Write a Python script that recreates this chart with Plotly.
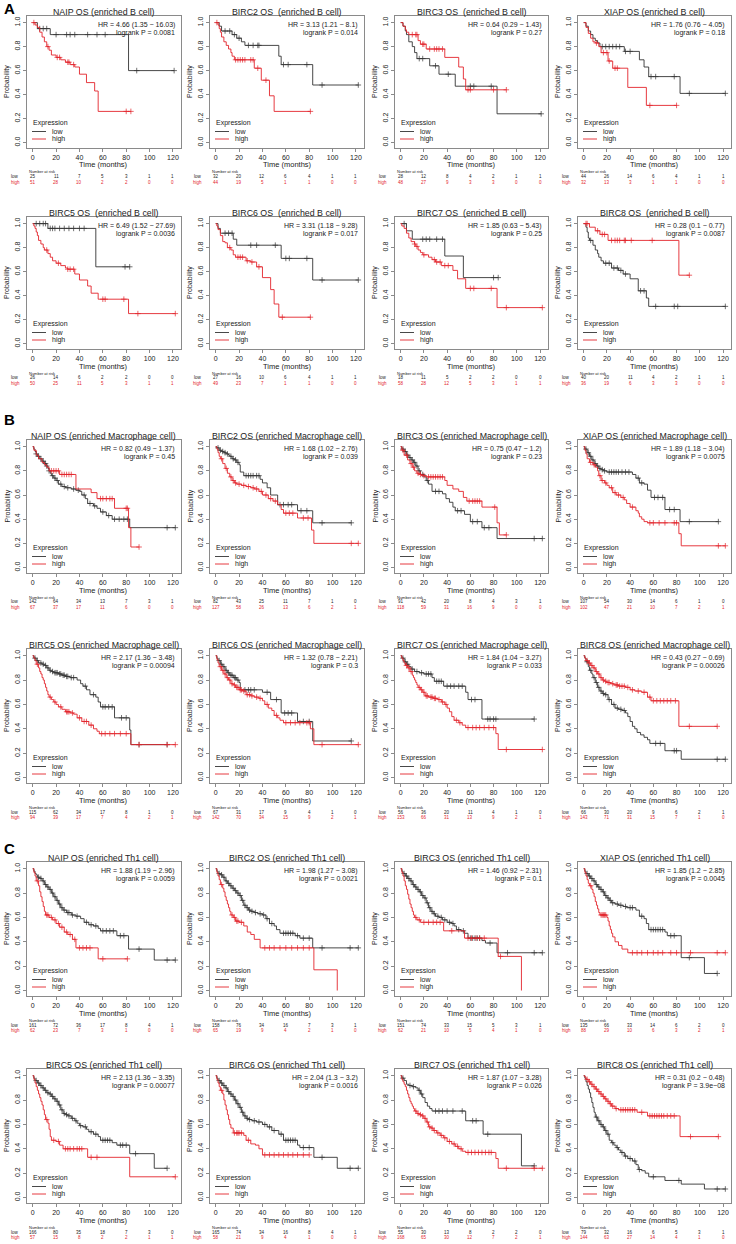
import plotly.graph_objects as go

# ---------------- DATA ----------------
TITLES = [
    "NAIP OS (enriched B cell)", "BIRC2 OS  (enriched B cell)", "BIRC3 OS  (enriched B cell)", "XIAP OS (enriched B cell)",
    "BIRC5 OS  (enriched B cell)", "BIRC6 OS  (enriched B cell)", "BIRC7 OS  (enriched B cell)", "BIRC8 OS  (enriched B cell)",
    "NAIP OS (enriched Macrophage cell)", "BIRC2 OS (enriched Macrophage cell)", "BIRC3 OS (enriched Macrophage cell)", "XIAP OS (enriched Macrophage cell)",
    "BIRC5 OS (enriched Macrophage cell)", "BIRC6 OS (enriched Macrophage cell)", "BIRC7 OS (enriched Macrophage cell)", "BIRC8 OS (enriched Macrophage cell)",
    "NAIP OS (enriched Th1 cell)", "BIRC2 OS (enriched Th1 cell)", "BIRC3 OS (enriched Th1 cell)", "XIAP OS (enriched Th1 cell)",
    "BIRC5 OS (enriched Th1 cell)", "BIRC6 OS (enriched Th1 cell)", "BIRC7 OS (enriched Th1 cell)", "BIRC8 OS (enriched Th1 cell)",
]
HR_TEXT = [
    "HR = 4.66 (1.35 − 16.03)", "HR = 3.13 (1.21 − 8.1)", "HR = 0.64 (0.29 − 1.43)", "HR = 1.76 (0.76 − 4.05)",
    "HR = 6.49 (1.52 − 27.69)", "HR = 3.31 (1.18 − 9.28)", "HR = 1.85 (0.63 − 5.43)", "HR = 0.28 (0.1 − 0.77)",
    "HR = 0.82 (0.49 − 1.37)", "HR = 1.68 (1.02 − 2.76)", "HR = 0.75 (0.47 − 1.2)", "HR = 1.89 (1.18 − 3.04)",
    "HR = 2.17 (1.36 − 3.48)", "HR = 1.32 (0.78 − 2.21)", "HR = 1.84 (1.04 − 3.27)", "HR = 0.43 (0.27 − 0.69)",
    "HR = 1.88 (1.19 − 2.96)", "HR = 1.98 (1.27 − 3.08)", "HR = 1.46 (0.92 − 2.31)", "HR = 1.85 (1.2 − 2.85)",
    "HR = 2.13 (1.36 − 3.35)", "HR = 2.04 (1.3 − 3.2)", "HR = 1.87 (1.07 − 3.28)", "HR = 0.31 (0.2 − 0.48)",
]
P_TEXT = [
    "logrank P = 0.0081", "logrank P = 0.014", "logrank P = 0.27", "logrank P = 0.18",
    "logrank P = 0.0036", "logrank P = 0.017", "logrank P = 0.25", "logrank P = 0.0087",
    "logrank P = 0.45", "logrank P = 0.039", "logrank P = 0.23", "logrank P = 0.0075",
    "logrank P = 0.00094", "logrank P = 0.3", "logrank P = 0.033", "logrank P = 0.00026",
    "logrank P = 0.0059", "logrank P = 0.0021", "logrank P = 0.1", "logrank P = 0.0045",
    "logrank P = 0.00077", "logrank P = 0.0016", "logrank P = 0.026", "logrank P = 3.9e−08",
]
NAR_TIMES = [0, 20, 40, 60, 80, 100, 120]
X_TICKS = [0, 20, 40, 60, 80, 100, 120]
Y_TICKS = [0.0, 0.2, 0.4, 0.6, 0.8, 1.0]
PANEL_LETTERS = ["A", "B", "C"]

# ---- Panel A (B cell) ----
A1_low_t = [4, 15, 82]
A1_low_s = [0.95, 0.90, 0.60]
A1_low_c = [6, 9, 12, 20, 29, 32, 36, 47, 55, 62, 89, 121]
A1_high_t = [2, 4, 6, 8, 10, 12, 14, 16, 20, 24, 28, 32, 36, 40, 46, 53, 56]
A1_high_s = [0.98, 0.96, 0.92, 0.88, 0.84, 0.80, 0.77, 0.73, 0.71, 0.69, 0.67, 0.65, 0.63, 0.57, 0.50, 0.43, 0.26]
A1_high_c = [1, 13, 21, 23, 30, 31, 35, 80, 84]
A1_nar_low = [25, 11, 7, 5, 3, 1, 1]
A1_nar_high = [51, 28, 10, 2, 2, 0, 0]

A2_low_t = [3, 5, 14, 18, 22, 25, 54, 56, 83]
A2_low_s = [0.97, 0.93, 0.90, 0.87, 0.84, 0.81, 0.72, 0.65, 0.48]
A2_low_c = [8, 12, 16, 20, 28, 32, 36, 37, 58, 62, 78, 91, 122]
A2_high_t = [2, 3, 4, 5, 7, 9, 11, 13, 14, 16, 33, 39, 46, 50]
A2_high_s = [0.98, 0.95, 0.92, 0.88, 0.84, 0.81, 0.78, 0.75, 0.72, 0.69, 0.62, 0.52, 0.39, 0.26]
A2_high_c = [1, 17, 19, 21, 23, 25, 30, 32, 36, 43, 81]
A2_nar_low = [32, 20, 12, 6, 4, 1, 1]
A2_nar_high = [44, 19, 5, 1, 1, 0, 0]

A3_low_t = [2, 4, 5, 7, 10, 12, 14, 25, 33, 47, 83]
A3_low_s = [0.97, 0.93, 0.90, 0.84, 0.80, 0.75, 0.70, 0.64, 0.57, 0.47, 0.24]
A3_low_c = [16, 19, 30, 41, 60, 63, 78, 121]
A3_high_t = [2, 4, 5, 7, 15, 17, 22, 38, 50, 54, 56]
A3_high_s = [0.97, 0.94, 0.92, 0.90, 0.85, 0.82, 0.78, 0.71, 0.63, 0.53, 0.44]
A3_high_c = [10, 13, 14, 19, 20, 25, 29, 31, 33, 36, 58, 60, 80, 91]
A3_nar_low = [28, 12, 8, 4, 2, 1, 1]
A3_nar_high = [48, 27, 9, 3, 3, 0, 0]

A4_low_t = [2, 4, 6, 8, 10, 12, 14, 35, 48, 52, 56, 83]
A4_low_s = [0.97, 0.93, 0.90, 0.87, 0.85, 0.83, 0.80, 0.76, 0.69, 0.63, 0.55, 0.41]
A4_low_c = [16, 19, 22, 25, 28, 31, 36, 40, 58, 62, 78, 91, 122]
A4_high_t = [2, 4, 6, 8, 10, 13, 15, 21, 25, 38, 54]
A4_high_s = [0.96, 0.91, 0.87, 0.84, 0.83, 0.80, 0.75, 0.68, 0.62, 0.46, 0.31]
A4_high_c = [11, 17, 20, 22, 27, 29, 57, 80]
A4_nar_low = [44, 26, 14, 6, 4, 1, 1]
A4_nar_high = [32, 13, 3, 1, 1, 0, 0]

A5_low_t = [13, 54]
A5_low_s = [0.96, 0.64]
A5_low_c = [3, 6, 9, 11, 15, 17, 19, 23, 27, 31, 35, 40, 44, 79, 83]
A5_high_t = [1, 2, 3, 4, 5, 7, 9, 10, 13, 15, 17, 20, 24, 28, 30, 36, 40, 47, 50, 56, 82]
A5_high_s = [0.98, 0.96, 0.93, 0.90, 0.86, 0.83, 0.80, 0.78, 0.75, 0.72, 0.69, 0.67, 0.65, 0.63, 0.62, 0.58, 0.53, 0.48, 0.42, 0.37, 0.25]
A5_high_c = [12, 22, 30, 32, 35, 60, 62, 78, 90, 122]
A5_nar_low = [26, 14, 6, 2, 2, 0, 0]
A5_nar_high = [50, 25, 11, 5, 3, 1, 1]

A6_low_t = [2, 4, 15, 18, 56, 83]
A6_low_s = [0.96, 0.92, 0.87, 0.82, 0.71, 0.53]
A6_low_c = [8, 11, 14, 30, 35, 51, 60, 63, 78, 91, 122]
A6_high_t = [1, 2, 4, 6, 8, 10, 13, 15, 17, 26, 30, 35, 40, 47, 50, 54]
A6_high_s = [0.98, 0.95, 0.90, 0.85, 0.84, 0.80, 0.78, 0.74, 0.72, 0.69, 0.68, 0.64, 0.55, 0.45, 0.33, 0.22]
A6_high_c = [12, 19, 21, 23, 27, 31, 37, 57, 81]
A6_nar_low = [27, 16, 10, 6, 4, 1, 1]
A6_nar_high = [49, 23, 7, 1, 1, 0, 0]

A7_low_t = [5, 10, 38, 54]
A7_low_s = [0.94, 0.87, 0.73, 0.55]
A7_low_c = [3, 19, 22, 25, 31, 36, 80, 84]
A7_high_t = [1, 3, 5, 7, 9, 12, 13, 15, 17, 19, 24, 27, 30, 35, 45, 49, 56, 83]
A7_high_s = [0.98, 0.96, 0.92, 0.88, 0.85, 0.83, 0.81, 0.78, 0.76, 0.74, 0.72, 0.70, 0.68, 0.65, 0.61, 0.54, 0.46, 0.30]
A7_high_c = [12, 14, 20, 29, 31, 34, 38, 41, 60, 63, 78, 91, 122]
A7_nar_low = [18, 11, 5, 2, 2, 0, 0]
A7_nar_high = [58, 28, 12, 5, 3, 1, 1]

A8_low_t = [2, 3, 4, 5, 8, 10, 12, 13, 15, 17, 24, 30, 34, 40, 47, 54, 56]
A8_low_s = [0.97, 0.93, 0.88, 0.86, 0.82, 0.78, 0.75, 0.72, 0.69, 0.67, 0.63, 0.61, 0.58, 0.54, 0.44, 0.38, 0.31]
A8_low_c = [6, 19, 22, 26, 29, 32, 36, 49, 52, 62, 78, 81, 122]
A8_high_t = [5, 10, 14, 21, 82]
A8_high_s = [0.97, 0.94, 0.91, 0.86, 0.57]
A8_high_c = [2, 3, 12, 16, 18, 24, 27, 29, 31, 35, 36, 41, 59, 91]
A8_nar_low = [40, 20, 11, 4, 2, 1, 1]
A8_nar_high = [36, 19, 6, 3, 3, 0, 0]

# ---- Panel B (Macrophage cell) ----
B1_low_t = [1, 2, 3, 4, 6, 8, 10, 12, 13, 14, 15, 16, 18, 20, 22, 25, 28, 33, 37, 40, 42, 45, 47, 52, 55, 58, 63, 68, 83]
B1_low_s = [0.98, 0.96, 0.94, 0.92, 0.90, 0.88, 0.86, 0.84, 0.82, 0.80, 0.78, 0.76, 0.74, 0.72, 0.69, 0.67, 0.66, 0.65, 0.64, 0.63, 0.60, 0.57, 0.53, 0.51, 0.49, 0.46, 0.43, 0.40, 0.33]
B1_low_c = [3, 5, 7, 9, 11, 12, 14, 17, 19, 21, 24, 27, 30, 35, 39, 44, 49, 53, 60, 65, 70, 74, 78, 81, 115, 122]
B1_high_t = [1, 3, 5, 8, 10, 12, 14, 23, 37, 50, 55, 70, 82, 84]
B1_high_s = [0.97, 0.93, 0.90, 0.87, 0.85, 0.83, 0.80, 0.77, 0.65, 0.62, 0.57, 0.49, 0.33, 0.17]
B1_high_c = [16, 18, 20, 22, 25, 27, 29, 31, 33, 58, 60, 63, 66, 68, 80, 81, 91]
B1_nar_low = [142, 64, 34, 13, 7, 3, 1]
B1_nar_high = [67, 37, 17, 11, 6, 0, 0]

B2_low_t = [1, 3, 5, 7, 9, 11, 12, 14, 16, 18, 20, 21, 24, 38, 40, 44, 47, 53, 70, 83]
B2_low_s = [0.99, 0.97, 0.96, 0.95, 0.94, 0.93, 0.92, 0.90, 0.89, 0.87, 0.85, 0.79, 0.76, 0.73, 0.70, 0.66, 0.60, 0.52, 0.47, 0.37]
B2_low_c = [2, 4, 6, 8, 10, 13, 15, 17, 19, 26, 28, 30, 32, 35, 37, 55, 58, 62, 65, 73, 78, 91, 116]
B2_high_t = [1, 2, 3, 4, 6, 8, 10, 12, 14, 16, 18, 22, 26, 30, 33, 37, 40, 45, 49, 53, 56, 58, 70, 82, 84]
B2_high_s = [0.98, 0.95, 0.92, 0.90, 0.86, 0.82, 0.78, 0.75, 0.72, 0.70, 0.69, 0.68, 0.67, 0.66, 0.65, 0.63, 0.60, 0.57, 0.55, 0.52, 0.48, 0.45, 0.41, 0.31, 0.20]
B2_high_c = [5, 9, 13, 15, 17, 20, 24, 28, 32, 35, 39, 43, 47, 51, 60, 63, 66, 75, 79, 116, 122]
B2_nar_low = [82, 43, 25, 11, 7, 1, 0]
B2_nar_high = [127, 58, 26, 13, 6, 2, 1]

B3_low_t = [1, 3, 5, 7, 9, 11, 13, 15, 17, 20, 22, 24, 27, 36, 39, 42, 45, 47, 55, 60, 70, 83]
B3_low_s = [0.98, 0.96, 0.93, 0.91, 0.89, 0.87, 0.84, 0.80, 0.77, 0.75, 0.72, 0.69, 0.63, 0.61, 0.57, 0.54, 0.50, 0.47, 0.44, 0.38, 0.33, 0.24]
B3_low_c = [2, 4, 6, 8, 10, 12, 14, 16, 19, 23, 30, 33, 49, 52, 62, 66, 72, 76, 115, 122]
B3_high_t = [1, 3, 6, 8, 10, 12, 14, 16, 18, 22, 38, 40, 45, 50, 54, 57, 70, 83, 85]
B3_high_s = [0.97, 0.93, 0.89, 0.86, 0.83, 0.80, 0.78, 0.77, 0.76, 0.75, 0.72, 0.68, 0.65, 0.63, 0.58, 0.55, 0.50, 0.37, 0.27]
B3_high_c = [2, 5, 9, 11, 15, 17, 20, 24, 26, 28, 30, 32, 34, 36, 59, 62, 64, 66, 68, 81, 91]
B3_nar_low = [91, 42, 20, 8, 4, 3, 1]
B3_nar_high = [118, 59, 31, 16, 9, 0, 0]

B4_low_t = [1, 3, 5, 7, 9, 11, 13, 15, 17, 20, 42, 45, 48, 52, 55, 58, 70, 83]
B4_low_s = [0.98, 0.95, 0.92, 0.89, 0.86, 0.84, 0.82, 0.81, 0.80, 0.79, 0.77, 0.74, 0.70, 0.69, 0.64, 0.58, 0.48, 0.38]
B4_low_c = [2, 4, 6, 8, 10, 12, 14, 16, 18, 22, 24, 26, 28, 30, 33, 36, 39, 47, 50, 61, 64, 68, 74, 78, 91, 116]
B4_high_t = [1, 2, 3, 5, 8, 10, 12, 13, 15, 18, 20, 22, 25, 28, 32, 35, 37, 40, 45, 47, 48, 50, 52, 55, 82, 84]
B4_high_s = [0.97, 0.94, 0.90, 0.87, 0.85, 0.83, 0.80, 0.76, 0.72, 0.70, 0.68, 0.66, 0.62, 0.60, 0.58, 0.56, 0.53, 0.50, 0.47, 0.45, 0.42, 0.40, 0.38, 0.37, 0.28, 0.18]
B4_high_c = [6, 9, 14, 16, 19, 24, 27, 30, 34, 42, 57, 60, 65, 70, 78, 80, 116, 122]
B4_nar_low = [107, 54, 30, 14, 6, 1, 0]
B4_nar_high = [102, 47, 21, 10, 7, 2, 1]

B5_low_t = [1, 3, 5, 8, 10, 12, 14, 16, 18, 22, 25, 28, 32, 38, 41, 43, 46, 49, 54, 56, 58, 70, 83, 84]
B5_low_s = [0.98, 0.96, 0.94, 0.93, 0.92, 0.90, 0.88, 0.87, 0.86, 0.85, 0.84, 0.83, 0.82, 0.80, 0.77, 0.75, 0.72, 0.68, 0.66, 0.62, 0.58, 0.49, 0.39, 0.27]
B5_low_c = [2, 4, 7, 9, 11, 13, 15, 17, 19, 20, 21, 23, 24, 26, 27, 29, 30, 33, 35, 45, 52, 60, 62, 65, 68, 76, 80, 91, 115]
B5_high_t = [1, 2, 3, 5, 6, 7, 8, 9, 10, 11, 12, 13, 14, 16, 18, 20, 22, 25, 28, 32, 35, 38, 42, 48, 52, 55, 57, 84]
B5_high_s = [0.98, 0.96, 0.93, 0.90, 0.87, 0.85, 0.82, 0.80, 0.77, 0.74, 0.71, 0.68, 0.66, 0.64, 0.62, 0.60, 0.58, 0.56, 0.54, 0.53, 0.52, 0.49, 0.46, 0.43, 0.40, 0.38, 0.36, 0.27]
B5_high_c = [4, 15, 19, 24, 29, 30, 31, 34, 40, 44, 46, 50, 59, 62, 66, 70, 75, 80, 91, 115, 122]
B5_nar_low = [115, 62, 34, 17, 8, 1, 0]
B5_nar_high = [94, 39, 17, 7, 4, 2, 1]

B6_low_t = [1, 2, 4, 6, 8, 10, 12, 15, 18, 20, 21, 40, 47, 56, 70, 83]
B6_low_s = [0.98, 0.96, 0.93, 0.91, 0.88, 0.86, 0.84, 0.82, 0.80, 0.78, 0.72, 0.70, 0.64, 0.53, 0.46, 0.30]
B6_low_c = [3, 5, 7, 9, 11, 13, 14, 16, 17, 19, 25, 28, 30, 33, 44, 52, 59, 62, 65, 75, 80, 116]
B6_high_t = [1, 2, 3, 5, 7, 9, 11, 13, 15, 17, 20, 23, 26, 30, 33, 37, 40, 42, 45, 48, 50, 53, 55, 58, 81, 84]
B6_high_s = [0.97, 0.94, 0.91, 0.88, 0.85, 0.82, 0.80, 0.77, 0.76, 0.74, 0.72, 0.71, 0.68, 0.67, 0.66, 0.65, 0.63, 0.60, 0.57, 0.55, 0.51, 0.49, 0.47, 0.45, 0.40, 0.27]
B6_high_c = [4, 6, 8, 10, 12, 14, 16, 18, 19, 21, 22, 24, 27, 29, 31, 35, 38, 44, 52, 60, 64, 68, 72, 78, 80, 91, 122]
B6_nar_low = [67, 31, 17, 9, 4, 1, 0]
B6_nar_high = [142, 70, 34, 15, 9, 2, 1]

B7_low_t = [1, 3, 5, 7, 9, 12, 16, 20, 27, 29, 37, 56, 58, 70]
B7_low_s = [0.98, 0.95, 0.93, 0.91, 0.89, 0.87, 0.86, 0.85, 0.82, 0.79, 0.75, 0.70, 0.64, 0.48]
B7_low_c = [2, 4, 6, 10, 14, 18, 22, 24, 26, 31, 33, 35, 40, 43, 46, 50, 53, 61, 64, 75, 77, 80, 82, 115]
B7_high_t = [1, 2, 3, 4, 6, 8, 10, 11, 12, 13, 14, 15, 17, 19, 21, 24, 28, 32, 35, 38, 40, 42, 44, 46, 50, 53, 56, 82, 84]
B7_high_s = [0.98, 0.96, 0.94, 0.92, 0.90, 0.87, 0.84, 0.82, 0.80, 0.78, 0.76, 0.74, 0.72, 0.70, 0.67, 0.66, 0.65, 0.64, 0.62, 0.60, 0.57, 0.54, 0.50, 0.47, 0.45, 0.43, 0.41, 0.36, 0.23]
B7_high_c = [5, 7, 9, 16, 18, 20, 22, 23, 26, 27, 29, 30, 33, 36, 39, 48, 51, 58, 62, 65, 68, 72, 76, 80, 91, 122]
B7_nar_low = [56, 36, 20, 11, 4, 1, 0]
B7_nar_high = [153, 66, 31, 13, 9, 2, 1]

B8_low_t = [1, 2, 4, 5, 7, 8, 10, 12, 14, 16, 18, 21, 24, 27, 30, 33, 36, 38, 40, 42, 44, 46, 49, 52, 55, 57, 70, 84]
B8_low_s = [0.98, 0.95, 0.91, 0.88, 0.85, 0.82, 0.78, 0.74, 0.71, 0.69, 0.68, 0.64, 0.60, 0.57, 0.56, 0.55, 0.53, 0.50, 0.46, 0.42, 0.40, 0.37, 0.35, 0.33, 0.31, 0.28, 0.22, 0.15]
B8_low_c = [3, 6, 9, 11, 13, 15, 17, 19, 22, 26, 29, 32, 35, 62, 66, 78, 80, 115, 122]
B8_high_t = [1, 2, 4, 6, 8, 10, 12, 14, 16, 18, 20, 23, 26, 30, 36, 40, 44, 50, 55, 58, 82]
B8_high_s = [0.98, 0.96, 0.94, 0.92, 0.90, 0.87, 0.85, 0.82, 0.80, 0.79, 0.78, 0.77, 0.76, 0.75, 0.74, 0.72, 0.71, 0.70, 0.66, 0.63, 0.42]
B8_high_c = [3, 5, 7, 9, 11, 13, 15, 17, 19, 21, 22, 25, 28, 29, 31, 33, 35, 38, 42, 47, 52, 57, 60, 63, 66, 69, 72, 75, 79, 91, 115]
B8_nar_low = [66, 30, 20, 9, 6, 2, 1]
B8_nar_high = [143, 71, 31, 15, 7, 1, 0]

# ---- Panel C (Th1 cell) ----
C1_low_t = [1, 2, 3, 4, 6, 8, 10, 12, 14, 16, 18, 20, 22, 24, 26, 29, 33, 37, 41, 44, 48, 52, 56, 58, 72, 82, 104]
C1_low_s = [0.98, 0.96, 0.95, 0.93, 0.92, 0.90, 0.87, 0.85, 0.83, 0.80, 0.77, 0.74, 0.71, 0.68, 0.66, 0.64, 0.62, 0.61, 0.59, 0.56, 0.54, 0.53, 0.51, 0.49, 0.45, 0.34, 0.25]
C1_low_c = [5, 7, 9, 11, 13, 15, 17, 19, 21, 23, 25, 27, 30, 31, 34, 38, 46, 50, 54, 60, 63, 66, 69, 75, 78, 91, 115, 122]
C1_high_t = [1, 2, 3, 5, 6, 7, 8, 9, 10, 11, 14, 17, 20, 23, 27, 30, 34, 37, 56]
C1_high_s = [0.97, 0.94, 0.90, 0.86, 0.81, 0.77, 0.73, 0.69, 0.65, 0.62, 0.60, 0.58, 0.55, 0.52, 0.48, 0.46, 0.42, 0.35, 0.26]
C1_high_c = [4, 12, 13, 16, 19, 22, 25, 29, 32, 36, 40, 43, 46, 49, 60, 81]
C1_nar_low = [161, 72, 36, 17, 8, 4, 1]
C1_nar_high = [62, 23, 7, 3, 1, 0, 0]

C2_low_t = [1, 2, 4, 6, 8, 10, 12, 14, 16, 18, 20, 22, 24, 26, 28, 30, 33, 36, 40, 43, 46, 50, 52, 55, 68, 72, 83]
C2_low_s = [0.98, 0.96, 0.95, 0.93, 0.90, 0.88, 0.86, 0.84, 0.82, 0.80, 0.78, 0.74, 0.70, 0.68, 0.66, 0.65, 0.64, 0.63, 0.62, 0.59, 0.55, 0.53, 0.50, 0.47, 0.45, 0.43, 0.35]
C2_low_c = [3, 5, 7, 9, 11, 13, 15, 17, 19, 21, 23, 25, 27, 29, 31, 34, 38, 41, 44, 48, 58, 60, 62, 64, 66, 70, 75, 80, 91, 115, 122]
C2_high_t = [1, 2, 3, 4, 6, 7, 8, 9, 10, 11, 12, 13, 15, 17, 20, 24, 27, 30, 33, 38, 84, 104]
C2_high_s = [0.97, 0.94, 0.91, 0.87, 0.84, 0.81, 0.77, 0.74, 0.71, 0.68, 0.65, 0.62, 0.60, 0.57, 0.56, 0.53, 0.48, 0.46, 0.42, 0.35, 0.17, 0.0]
C2_high_c = [5, 14, 16, 18, 19, 22, 42, 46, 50, 55, 60, 65, 70, 75, 80]
C2_nar_low = [158, 76, 34, 16, 7, 3, 1]
C2_nar_high = [65, 19, 9, 4, 2, 1, 0]

C3_low_t = [1, 2, 4, 6, 8, 10, 12, 14, 16, 18, 20, 22, 24, 26, 28, 30, 33, 36, 40, 44, 46, 48, 52, 55, 58, 70, 73, 83]
C3_low_s = [0.98, 0.96, 0.94, 0.92, 0.90, 0.87, 0.85, 0.83, 0.81, 0.78, 0.76, 0.72, 0.68, 0.65, 0.63, 0.61, 0.60, 0.58, 0.56, 0.55, 0.53, 0.50, 0.49, 0.47, 0.43, 0.41, 0.39, 0.31]
C3_low_c = [3, 5, 7, 9, 11, 13, 15, 17, 19, 21, 23, 25, 27, 29, 32, 35, 38, 42, 45, 50, 54, 60, 62, 64, 66, 68, 77, 92, 115, 122]
C3_high_t = [1, 2, 3, 4, 5, 6, 7, 8, 9, 10, 11, 12, 14, 17, 37, 55, 84, 104]
C3_high_s = [0.97, 0.94, 0.90, 0.86, 0.83, 0.79, 0.75, 0.71, 0.68, 0.65, 0.62, 0.60, 0.58, 0.56, 0.49, 0.43, 0.28, 0.0]
C3_high_c = [13, 16, 20, 24, 28, 31, 34, 44, 58, 61, 65, 68, 72, 86]
C3_nar_low = [151, 74, 33, 15, 5, 3, 1]
C3_nar_high = [62, 21, 10, 5, 4, 1, 0]

C4_low_t = [1, 2, 4, 6, 8, 10, 12, 14, 16, 18, 20, 22, 24, 27, 30, 34, 37, 45, 48, 52, 54, 56, 70, 72, 84, 104]
C4_low_s = [0.98, 0.96, 0.94, 0.92, 0.90, 0.87, 0.85, 0.83, 0.81, 0.78, 0.76, 0.74, 0.72, 0.71, 0.70, 0.69, 0.68, 0.66, 0.61, 0.59, 0.55, 0.50, 0.48, 0.45, 0.27, 0.14]
C4_low_c = [3, 5, 7, 9, 11, 13, 15, 17, 19, 21, 23, 25, 29, 32, 36, 40, 42, 50, 58, 60, 62, 64, 66, 68, 75, 78, 91, 115]
C4_high_t = [1, 2, 3, 4, 5, 7, 8, 9, 10, 11, 12, 13, 14, 20, 21, 22, 23, 24, 25, 27, 30, 33, 38]
C4_high_s = [0.97, 0.94, 0.91, 0.88, 0.86, 0.83, 0.80, 0.77, 0.73, 0.70, 0.67, 0.64, 0.62, 0.60, 0.57, 0.53, 0.50, 0.47, 0.44, 0.40, 0.37, 0.34, 0.31]
C4_high_c = [6, 15, 16, 17, 18, 19, 42, 46, 50, 55, 60, 64, 68, 75, 80, 92, 115, 122]
C4_nar_low = [135, 66, 33, 14, 6, 2, 0]
C4_nar_high = [88, 29, 10, 6, 3, 2, 1]

C5_low_t = [1, 2, 4, 6, 8, 10, 12, 14, 16, 18, 20, 22, 24, 26, 28, 30, 33, 36, 38, 40, 43, 46, 48, 52, 56, 58, 68, 72, 83, 104]
C5_low_s = [0.98, 0.96, 0.94, 0.92, 0.90, 0.88, 0.86, 0.85, 0.83, 0.81, 0.79, 0.76, 0.72, 0.69, 0.68, 0.67, 0.65, 0.63, 0.61, 0.59, 0.58, 0.56, 0.54, 0.52, 0.50, 0.47, 0.45, 0.43, 0.36, 0.24]
C5_low_c = [3, 5, 7, 9, 11, 13, 15, 17, 19, 21, 23, 25, 27, 29, 31, 34, 37, 41, 45, 50, 54, 60, 62, 64, 66, 75, 77, 80, 88, 115]
C5_high_t = [1, 2, 3, 4, 5, 6, 7, 8, 9, 10, 11, 13, 14, 15, 16, 20, 23, 26, 47, 83]
C5_high_s = [0.97, 0.94, 0.91, 0.88, 0.85, 0.82, 0.79, 0.76, 0.72, 0.68, 0.64, 0.61, 0.56, 0.50, 0.47, 0.46, 0.43, 0.40, 0.33, 0.17]
C5_high_c = [12, 18, 22, 28, 30, 32, 35, 38, 40, 42, 50, 55, 122]
C5_nar_low = [166, 80, 35, 18, 7, 3, 0]
C5_nar_high = [57, 15, 8, 2, 2, 1, 1]

C6_low_t = [1, 2, 4, 6, 8, 10, 12, 14, 16, 18, 20, 22, 24, 26, 28, 31, 35, 40, 44, 48, 54, 58, 70, 72, 84, 104]
C6_low_s = [0.98, 0.96, 0.94, 0.92, 0.90, 0.87, 0.85, 0.83, 0.80, 0.77, 0.74, 0.70, 0.67, 0.65, 0.64, 0.63, 0.62, 0.60, 0.58, 0.55, 0.52, 0.47, 0.43, 0.41, 0.33, 0.24]
C6_low_c = [3, 5, 7, 9, 11, 13, 15, 17, 19, 21, 23, 25, 27, 29, 33, 37, 42, 46, 50, 56, 60, 62, 64, 66, 68, 75, 80, 91, 115, 122]
C6_high_t = [1, 2, 3, 4, 6, 7, 8, 9, 10, 11, 12, 13, 15, 24, 26, 30, 34, 37, 40]
C6_high_s = [0.97, 0.94, 0.91, 0.88, 0.85, 0.80, 0.76, 0.72, 0.68, 0.64, 0.60, 0.57, 0.53, 0.51, 0.47, 0.44, 0.43, 0.40, 0.35]
C6_high_c = [5, 16, 18, 19, 20, 22, 28, 42, 46, 50, 54, 58, 62, 66, 70, 75, 80]
C6_nar_low = [165, 74, 34, 16, 8, 4, 1]
C6_nar_high = [58, 21, 9, 4, 1, 0, 0]

C7_low_t = [1, 3, 5, 7, 10, 13, 15, 17, 19, 21, 23, 25, 27, 56, 71, 104]
C7_low_s = [0.98, 0.96, 0.93, 0.92, 0.91, 0.90, 0.88, 0.85, 0.82, 0.78, 0.75, 0.73, 0.71, 0.63, 0.52, 0.26]
C7_low_c = [2, 8, 11, 16, 18, 30, 33, 36, 40, 45, 53, 62, 65, 75, 115]
C7_high_t = [1, 2, 3, 4, 5, 6, 7, 8, 9, 10, 11, 12, 14, 16, 18, 20, 22, 24, 26, 28, 31, 34, 37, 40, 44, 47, 50, 53, 56, 82, 84]
C7_high_s = [0.97, 0.95, 0.93, 0.91, 0.88, 0.85, 0.82, 0.79, 0.77, 0.75, 0.73, 0.71, 0.69, 0.68, 0.67, 0.65, 0.62, 0.58, 0.57, 0.55, 0.53, 0.51, 0.49, 0.46, 0.44, 0.42, 0.40, 0.38, 0.37, 0.32, 0.24]
C7_high_c = [13, 15, 17, 19, 21, 23, 25, 27, 29, 32, 35, 38, 42, 46, 49, 52, 58, 61, 64, 67, 70, 73, 76, 78, 91, 115, 122]
C7_nar_low = [55, 30, 13, 8, 2, 2, 0]
C7_nar_high = [168, 65, 30, 12, 7, 2, 1]

C8_low_t = [1, 2, 3, 4, 5, 6, 7, 8, 9, 10, 12, 14, 16, 18, 20, 22, 24, 26, 28, 30, 32, 35, 38, 42, 45, 47, 50, 53, 56, 70, 84, 104]
C8_low_s = [0.98, 0.95, 0.92, 0.89, 0.86, 0.82, 0.78, 0.74, 0.70, 0.66, 0.63, 0.60, 0.58, 0.55, 0.52, 0.47, 0.45, 0.43, 0.41, 0.39, 0.37, 0.34, 0.32, 0.30, 0.27, 0.23, 0.22, 0.20, 0.17, 0.14, 0.11, 0.07]
C8_low_c = [11, 13, 15, 17, 19, 21, 25, 29, 33, 36, 40, 44, 48, 60, 82, 115, 122]
C8_high_t = [1, 2, 4, 6, 8, 10, 12, 14, 16, 18, 20, 22, 24, 27, 30, 46, 55, 83]
C8_high_s = [0.99, 0.97, 0.95, 0.93, 0.91, 0.89, 0.87, 0.85, 0.83, 0.81, 0.79, 0.77, 0.75, 0.73, 0.72, 0.70, 0.67, 0.50]
C8_high_c = [3, 5, 7, 9, 11, 13, 15, 17, 19, 21, 23, 25, 28, 32, 34, 36, 38, 40, 42, 44, 50, 57, 59, 61, 63, 65, 67, 69, 72, 75, 78, 92, 116]
C8_nar_low = [79, 32, 16, 6, 5, 3, 1]
C8_nar_high = [144, 63, 27, 14, 4, 1, 0]

KEYS = [f"{p}{i}" for p in "ABC" for i in range(1, 9)]

# ---------------- LAYOUT GEOMETRY (pixels) ----------------
W, H = 736, 1244
COLS = [(27, 181), (210, 364), (395, 548), (578, 731)]
ROWS = [(16, 148), (217, 349), (440, 573), (649, 783), (862, 996), (1069, 1203)]
LETTER_Y = [8, 420, 848]
XR = [-4.88, 126.88]
YR = [-0.045, 1.055]

LOW_C = "#333333"
HIGH_C = "#e3242b"
BOX_C = "#8a8a8a"
TXT_C = "#222222"
FONT = "Liberation Sans, Arial, Helvetica, sans-serif"


def px(x):
    return x / W


def py(y):
    return 1 - y / H


def step_xy(t, s, c):
    end = max([t[-1]] + list(c))
    return [0] + list(t) + [end], [1.0] + list(s) + [s[-1]]


def surv_at(t, s, tc):
    v = 1.0
    for ti, si in zip(t, s):
        if ti <= tc:
            v = si
    return v


fig = go.Figure()
ann = []
shapes = []
G = globals()

for idx, key in enumerate(KEYS):
    r, c = idx // 4, idx % 4
    L, R = COLS[c]
    T, B = ROWS[r]
    n = idx + 1
    xs = "x" if n == 1 else f"x{n}"
    ys = "y" if n == 1 else f"y{n}"
    xn = "xaxis" if n == 1 else f"xaxis{n}"
    yn = "yaxis" if n == 1 else f"yaxis{n}"

    fig.layout[xn] = dict(
        domain=[px(L), px(R)], range=XR, anchor=ys, showline=True, mirror=True,
        linecolor=BOX_C, linewidth=0.9, ticks="outside", ticklen=3, tickwidth=0.8,
        tickcolor=BOX_C, tickvals=X_TICKS, tickfont=dict(size=7, color=TXT_C, family=FONT),
        showgrid=False, zeroline=False, fixedrange=True,
    )
    fig.layout[yn] = dict(
        domain=[py(B), py(T)], range=YR, anchor=xs, showline=True, mirror=True,
        linecolor=BOX_C, linewidth=0.9, ticks="outside", ticklen=3, tickwidth=0.8,
        tickcolor=BOX_C, tickvals=Y_TICKS, tickformat=".1f", tickangle=-90,
        tickfont=dict(size=7, color=TXT_C, family=FONT),
        showgrid=False, zeroline=False, fixedrange=True,
    )

    for grp, col in (("low", LOW_C), ("high", HIGH_C)):
        t = G[f"{key}_{grp}_t"]
        s = G[f"{key}_{grp}_s"]
        cc = G[f"{key}_{grp}_c"]
        lx, ly = step_xy(t, s, cc)
        fig.add_trace(go.Scatter(
            x=lx, y=ly, mode="lines", line=dict(color=col, width=0.9, shape="hv"),
            xaxis=xs, yaxis=ys, showlegend=False, hoverinfo="skip",
        ))
        fig.add_trace(go.Scatter(
            x=cc, y=[surv_at(t, s, v) for v in cc], mode="markers",
            marker=dict(symbol="cross-thin", size=4, color=col, line=dict(width=0.7, color=col)),
            xaxis=xs, yaxis=ys, showlegend=False, hoverinfo="skip",
        ))

    f = lambda size, color=TXT_C: dict(size=size, color=color, family=FONT)
    # title
    ann.append(dict(text=TITLES[idx], x=px((L + R) / 2), y=py(T - 4), xref="paper", yref="paper",
                    xanchor="center", yanchor="middle", showarrow=False, font=f(8.8)))
    # HR / P
    ann.append(dict(text=HR_TEXT[idx], x=px(R - 4), y=py(T + 9), xref="paper", yref="paper",
                    xanchor="right", yanchor="middle", showarrow=False, font=f(7)))
    ann.append(dict(text=P_TEXT[idx], x=px(R - 4), y=py(T + 17), xref="paper", yref="paper",
                    xanchor="right", yanchor="middle", showarrow=False, font=f(7)))
    # legend
    ann.append(dict(text="Expression", x=px(L + 4), y=py(B - 25), xref="paper", yref="paper",
                    xanchor="left", yanchor="middle", showarrow=False, font=f(7)))
    for lab, yy, col in (("low", B - 16.5, LOW_C), ("high", B - 9, HIGH_C)):
        ann.append(dict(text=lab, x=px(L + 23), y=py(yy), xref="paper", yref="paper",
                        xanchor="left", yanchor="middle", showarrow=False, font=f(7)))
        shapes.append(dict(type="line", xref="paper", yref="paper", x0=px(L + 5), x1=px(L + 19),
                           y0=py(yy), y1=py(yy), line=dict(color=col, width=0.9)))
    # axis titles
    ann.append(dict(text="Probability", x=px(L - 20), y=py((T + B) / 2), xref="paper", yref="paper",
                    xanchor="center", yanchor="middle", textangle=-90, showarrow=False, font=f(7)))
    ann.append(dict(text="Time (months)", x=px((L + R) / 2), y=py(B + 17), xref="paper", yref="paper",
                    xanchor="center", yanchor="middle", showarrow=False, font=f(7.5)))
    # number at risk
    ann.append(dict(text="Number at risk", x=px(L), y=py(B + 24), xref="paper", yref="paper",
                    xanchor="left", yanchor="middle", showarrow=False, font=f(4)))
    for lab, yy, col in (("low", B + 29, TXT_C), ("high", B + 34.5, HIGH_C)):
        ann.append(dict(text=lab, x=px(L - 12), y=py(yy), xref="paper", yref="paper",
                        xanchor="center", yanchor="middle", showarrow=False, font=f(4.5, col)))
        vals = G[f"{key}_nar_{lab}"]
        for tt, v in zip(NAR_TIMES, vals):
            ann.append(dict(text=str(v), x=tt, y=py(yy), xref=xs, yref="paper",
                            xanchor="center", yanchor="middle", showarrow=False, font=f(4.5, col)))

for letter, ly in zip(PANEL_LETTERS, LETTER_Y):
    ann.append(dict(text=f"<b>{letter}</b>", x=px(2), y=py(ly), xref="paper", yref="paper",
                    xanchor="left", yanchor="middle", showarrow=False,
                    font=dict(size=15, color="#000", family=FONT)))

fig.update_layout(
    width=W, height=H, margin=dict(l=0, r=0, t=0, b=0),
    paper_bgcolor="white", plot_bgcolor="white",
    annotations=ann, shapes=shapes, showlegend=False,
)
fig.write_html(
    "out.html",
    config={"displayModeBar": False},
    post_script="document.body.style.margin='0';document.body.style.padding='0';"
                "document.body.style.overflow='hidden';document.documentElement.style.overflow='hidden';",
)
